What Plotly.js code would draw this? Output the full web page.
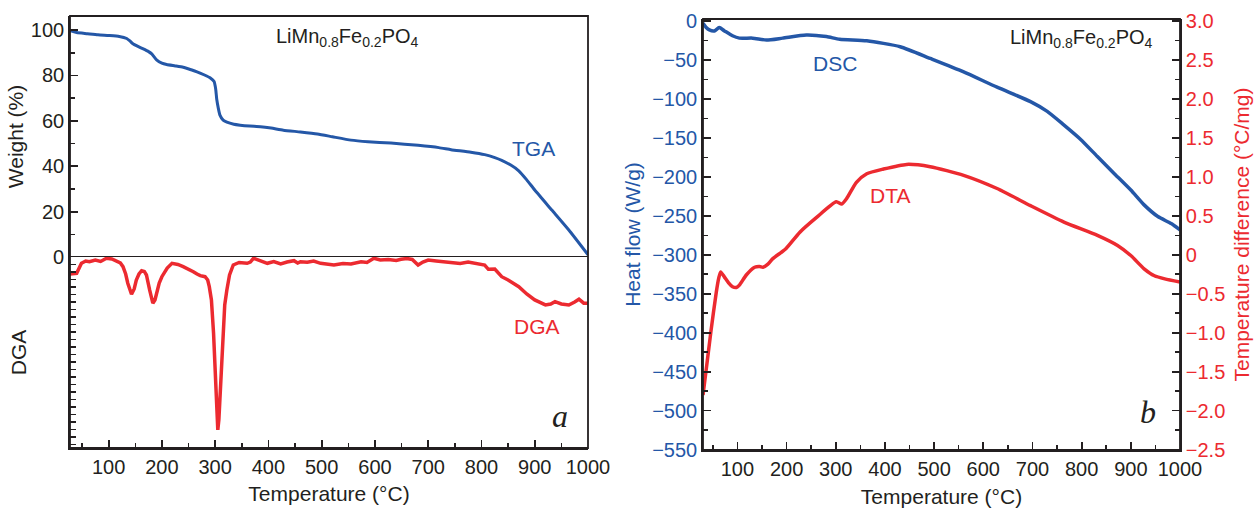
<!DOCTYPE html>
<html>
<head>
<meta charset="utf-8">
<script src="https://cdn.plot.ly/plotly-3.0.1.min.js"></script>
<style>html,body{margin:0;padding:0;background:#fff;}#chart{width:1255px;height:509px;}</style>
</head>
<body>
<div id="chart"></div>
<script>
// ---- Panel a: TGA (weight %) ----
const tgaTemp = [25,30,40,60,80,100,120,134,140,145,155,164,175,181,190,200,209,225,240,255,266,280,291,298,301,303,306,309,315,322,335,347,365,385,405,428,460,492,520,555,587,630,681,720,743,780,806,825,838,855,870,885,900,932,964,1000];
const tgaWeight = [100,99.6,98.9,98.4,97.9,97.6,97.2,96.3,95.2,94.1,92.8,91.8,90.5,89.5,86.9,85.4,84.8,84.2,83.6,82.5,81.6,80.2,78.9,77.3,74,69.5,65.5,62.5,60.3,59.4,58.5,58.1,57.7,57.4,56.8,55.9,55.1,54.2,53.0,51.5,50.8,50.2,49.2,48.2,47.3,46.2,45.1,43.8,42.6,40.5,38.0,34.0,29.5,20.7,11.9,1.0];

// ---- Panel a: DGA (arbitrary units, negative downwards) ----
const dgaTemp = [25,40,49,57,64,75,85,96,106,115,122,127,132,136,143,148,152,157,162,167,171,177,183,187,190,195,200,210,219,230,240,250,259,266,272,281,286,289,293,297,300,302,305,307,309,312,315,318,322,327,334,345,360,366,372,380,390,398,410,423,435,448,455,460,473,485,498,510,523,540,555,574,585,598,610,625,640,649,660,670,681,690,700,715,730,743,760,775,790,806,813,825,838,850,870,885,900,910,920,930,938,950,964,975,983,992,1000];
const dgaValue = [-2.27,-2.17,-0.84,-0.53,-0.63,-0.4,-0.6,-0.17,-0.27,-0.63,-0.8,-1.29,-2.27,-3.5,-4.97,-4.27,-3.07,-2.27,-1.83,-1.93,-2.4,-4.4,-6.17,-5.73,-4.84,-3.47,-2.63,-1.47,-0.84,-1.0,-1.29,-1.6,-1.96,-2.27,-2.49,-2.63,-3.07,-3.96,-5.73,-10.17,-15.07,-19.07,-23.07,-21.7,-19.07,-14.4,-10.13,-6.4,-4.4,-2.4,-1.07,-0.73,-0.84,-0.67,-0.17,-0.4,-0.67,-0.84,-0.6,-0.93,-0.67,-0.49,-0.8,-0.63,-0.71,-0.53,-0.84,-0.93,-1.07,-0.87,-0.93,-0.63,-0.73,-0.17,-0.4,-0.33,-0.47,-0.31,-0.2,-0.33,-1.07,-0.67,-0.4,-0.53,-0.67,-0.76,-0.87,-0.67,-0.87,-1.07,-1.64,-1.6,-2.63,-3.07,-3.96,-4.93,-5.73,-6.07,-6.4,-6.27,-5.96,-6.27,-6.4,-6.0,-5.64,-6.17,-6.17];

// ---- Panel b: DSC (heat flow, W/g) ----
const dscTemp = [30,36,43,53,63,73,90,104,131,159,192,240,281,308,363,431,492,559,628,696,730,763,798,832,865,900,927,955,982,1000];
const dscHeatFlow = [-3,-8,-11.5,-12.8,-8.5,-12.4,-19,-22,-22,-24.5,-22,-18,-20,-23.5,-25.5,-33,-48,-65,-85,-103.5,-116,-133,-152,-174,-195,-217,-236,-251,-260,-268];

// ---- Panel b: DTA (temperature difference, °C/mg) ----
const dtaTemp = [30,36,46,57,62,66,74,82,90,98,104,118,135,145,152,162,172,189,199,227,261,301,312,322,342,363,397,444,492,560,628,696,764,832,873,900,927,948,969,1000];
const dtaDiff = [-1.8,-1.5,-0.99,-0.48,-0.3,-0.22,-0.29,-0.36,-0.41,-0.42,-0.39,-0.26,-0.16,-0.15,-0.16,-0.12,-0.05,0.03,0.08,0.29,0.48,0.68,0.65,0.72,0.93,1.04,1.10,1.16,1.13,1.02,0.85,0.63,0.42,0.25,0.12,-0.01,-0.18,-0.27,-0.31,-0.35];

// ---- tick labels ----
const dtaTickVals = [3.0,2.5,2.0,1.5,1.0,0.5,0,-0.5,-1.0,-1.5,-2.0,-2.5];
const dtaTickText = ['3.0','2.5','2.0','1.5','1.0','0.5','0','\u22120.5','\u22121.0','\u22121.5','\u22122.0','\u22122.5'];

const W = 1255, H = 509;
const px = v => v / W;
const py = v => 1 - v / H;

const BLUE = '#2457a7';
const RED = '#ec2a30';
const INK = '#231f20';
const FONT = 'Liberation Sans, Arial, Helvetica, sans-serif';

const traces = [
  {x: tgaTemp, y: tgaWeight, xaxis: 'x', yaxis: 'y', type: 'scatter', mode: 'lines',
   line: {color: BLUE, width: 3, shape: 'spline', smoothing: 0.5}, name: 'TGA', hoverinfo: 'skip'},
  {x: dgaTemp, y: dgaValue, xaxis: 'x', yaxis: 'y3', type: 'scatter', mode: 'lines',
   line: {color: RED, width: 3.5}, name: 'DGA', hoverinfo: 'skip'},
  {x: dscTemp, y: dscHeatFlow, xaxis: 'x2', yaxis: 'y2', type: 'scatter', mode: 'lines',
   line: {color: BLUE, width: 3.5, shape: 'spline', smoothing: 0.6}, name: 'DSC', hoverinfo: 'skip'},
  {x: dtaTemp, y: dtaDiff, xaxis: 'x2', yaxis: 'y4', type: 'scatter', mode: 'lines',
   line: {color: RED, width: 3.5, shape: 'spline', smoothing: 0.6}, name: 'DTA', hoverinfo: 'skip'}
];

const commonAxis = {
  showgrid: false, zeroline: false, showline: true, linecolor: INK, linewidth: 1.8,
  ticks: 'inside', ticklen: 8, tickwidth: 1.8, tickcolor: INK
};
const minorTicks = d => ({dtick: d, ticks: 'inside', ticklen: 5, tickwidth: 1.5, tickcolor: INK, showgrid: false});

const layout = {
  width: W, height: H,
  margin: {l: 0, r: 0, t: 0, b: 0},
  paper_bgcolor: '#ffffff', plot_bgcolor: '#ffffff',
  showlegend: false,
  font: {family: FONT, color: INK, size: 20},
  xaxis: Object.assign({}, commonAxis, {
    domain: [px(70), px(588)], anchor: 'y3', range: [27.5, 1000],
    tickmode: 'linear', tick0: 0, dtick: 100, minor: minorTicks(50),
    tickfont: {size: 20, color: INK},
    title: {text: 'Temperature (\u00b0C)', font: {size: 21, color: INK}, standoff: 9}
  }),
  yaxis: Object.assign({}, commonAxis, {
    domain: [py(257), py(16)], anchor: 'x', range: [0, 106.2],
    tickmode: 'linear', tick0: 0, dtick: 20, minor: minorTicks(10),
    tickfont: {size: 20, color: INK},
    title: {text: 'Weight (%)', font: {size: 21, color: INK}, standoff: 1}
  }),
  yaxis3: Object.assign({}, commonAxis, {
    domain: [py(448), py(257)], anchor: 'x', range: [-25.5, 0],
    tickmode: 'linear', tick0: 0, dtick: 1, ticklen: 6, tickwidth: 1.5,
    showticklabels: false,
    title: {text: 'DGA', font: {size: 21, color: INK}, standoff: 36}
  }),
  xaxis2: Object.assign({}, commonAxis, {
    domain: [px(703), px(1180)], anchor: 'y2', range: [30, 1000],
    tickmode: 'linear', tick0: 0, dtick: 100, minor: minorTicks(50),
    tickfont: {size: 20, color: INK},
    title: {text: 'Temperature (\u00b0C)', font: {size: 21, color: INK}, standoff: 10}
  }),
  yaxis2: Object.assign({}, commonAxis, {
    domain: [py(450), py(19)], anchor: 'x2', range: [-550.6, 2.55],
    tickmode: 'linear', tick0: 0, dtick: 50, minor: minorTicks(25),
    tickfont: {size: 20, color: BLUE},
    title: {text: 'Heat flow (W/g)', font: {size: 21, color: BLUE}, standoff: 6}
  }),
  yaxis4: Object.assign({}, commonAxis, {
    overlaying: 'y2', side: 'right', anchor: 'x2', range: [-2.506, 3.026],
    tickmode: 'array', tickvals: dtaTickVals, ticktext: dtaTickText,
    minor: minorTicks(0.25),
    tickfont: {size: 20, color: RED},
    title: {text: 'Temperature difference (\u00b0C/mg)', font: {size: 21, color: RED}, standoff: 10}
  }),
  shapes: [
    {type: 'rect', xref: 'paper', yref: 'paper', x0: px(70), x1: px(588), y0: py(448), y1: py(16),
     line: {color: INK, width: 1.8}, fillcolor: 'rgba(0,0,0,0)', layer: 'above'},
    {type: 'line', xref: 'x domain', yref: 'y', x0: 0, x1: 1, y0: 0, y1: 0,
     line: {color: INK, width: 2}, layer: 'above'},
    {type: 'rect', xref: 'paper', yref: 'paper', x0: px(703), x1: px(1180), y0: py(450), y1: py(19),
     line: {color: INK, width: 1.8}, fillcolor: 'rgba(0,0,0,0)', layer: 'above'}
  ],
  annotations: [
    {xref: 'paper', yref: 'paper', x: px(347), y: py(37), xanchor: 'center', yanchor: 'middle', showarrow: false,
     text: 'LiMn<sub>0.8</sub>Fe<sub>0.2</sub>PO<sub>4</sub>', font: {size: 20, color: INK, family: FONT}},
    {xref: 'paper', yref: 'paper', x: px(1081), y: py(39), xanchor: 'center', yanchor: 'middle', showarrow: false,
     text: 'LiMn<sub>0.8</sub>Fe<sub>0.2</sub>PO<sub>4</sub>', font: {size: 20, color: INK, family: FONT}},
    {xref: 'paper', yref: 'paper', x: px(533), y: py(148), xanchor: 'center', yanchor: 'middle', showarrow: false,
     text: 'TGA', font: {size: 21, color: BLUE, family: FONT}},
    {xref: 'paper', yref: 'paper', x: px(537), y: py(326), xanchor: 'center', yanchor: 'middle', showarrow: false,
     text: 'DGA', font: {size: 21, color: RED, family: FONT}},
    {xref: 'paper', yref: 'paper', x: px(835), y: py(63), xanchor: 'center', yanchor: 'middle', showarrow: false,
     text: 'DSC', font: {size: 21, color: BLUE, family: FONT}},
    {xref: 'paper', yref: 'paper', x: px(890), y: py(196), xanchor: 'center', yanchor: 'middle', showarrow: false,
     text: 'DTA', font: {size: 21, color: RED, family: FONT}},
    {xref: 'paper', yref: 'paper', x: px(560), y: py(416), xanchor: 'center', yanchor: 'middle', showarrow: false,
     text: '<i>a</i>', font: {size: 32, color: INK, family: 'Liberation Serif, Times New Roman, serif'}},
    {xref: 'paper', yref: 'paper', x: px(1148), y: py(412), xanchor: 'center', yanchor: 'middle', showarrow: false,
     text: '<i>b</i>', font: {size: 32, color: INK, family: 'Liberation Serif, Times New Roman, serif'}}
  ]
};

Plotly.newPlot('chart', traces, layout, {staticPlot: true, displayModeBar: false});
</script>
</body>
</html>
